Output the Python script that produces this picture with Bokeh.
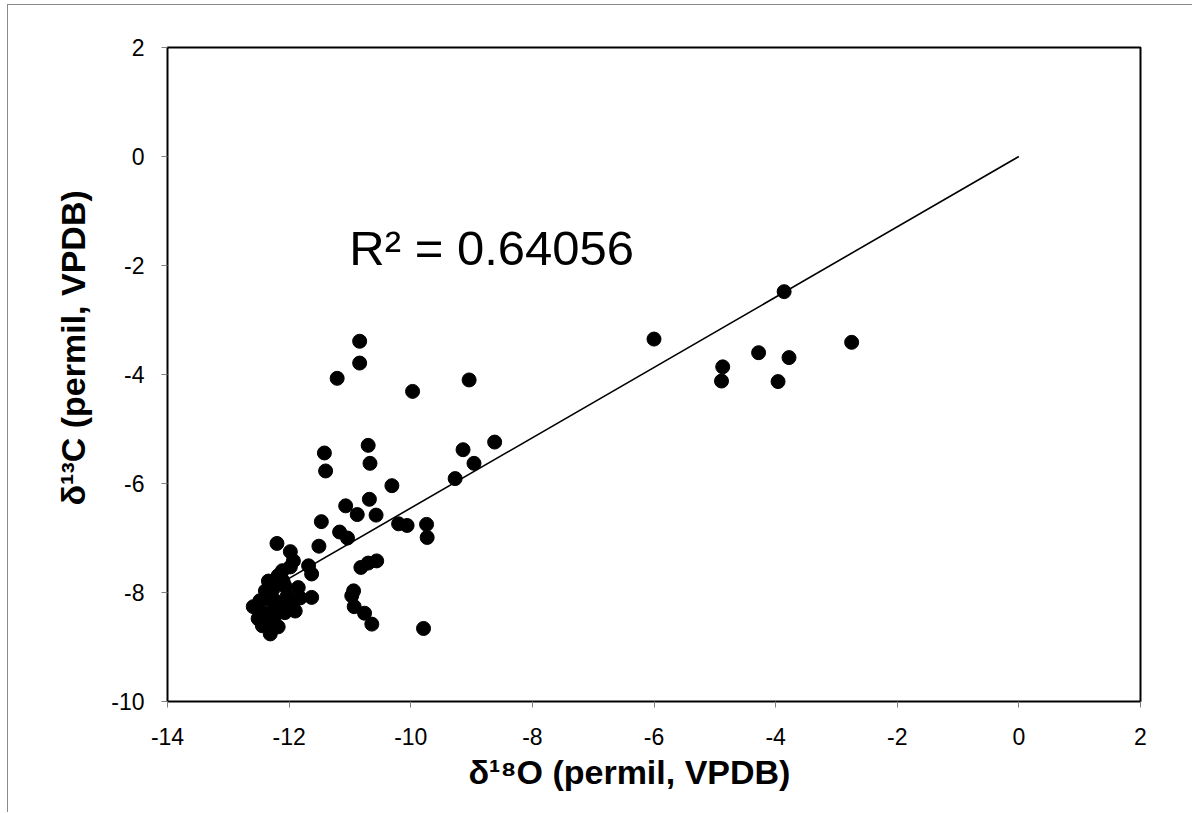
from bokeh.plotting import figure
from bokeh.models import FixedTicker, Range1d, Label, Title
from bokeh.embed import file_html
from bokeh.resources import INLINE

# delta 18O (x) and delta 13C (y), permil VPDB
d18O = [-10.84, -10.84, -11.21, -9.97, -9.04, -10.70, -11.42, -11.40, -10.67, -9.14,
        -8.62, -8.96, -9.27, -10.31, -10.68, -11.07, -10.88, -10.57, -11.47, -10.20,
        -10.06, -9.74, -9.73, -11.17, -11.04, -11.51, -10.56, -10.70, -10.82, -11.68,
        -11.63, -10.94, -10.97, -11.63, -10.93, -10.76, -10.64, -9.79,
        -6.00, -4.87, -4.89, -4.28, -3.78, -3.96, -2.75, -3.86,
        -12.20, -11.98, -11.93, -11.98, -11.85, -11.90, -12.59, -12.51, -12.31, -12.18,
        -12.26, -12.36, -12.15, -12.03, -12.31, -12.44, -12.10, -12.18, -12.39, -12.48,
        -12.23, -12.07, -11.98, -12.11, -12.34, -12.23, -12.07, -11.82, -11.95, -12.43,
        -12.28]
d13C = [-3.39, -3.79, -4.07, -4.31, -4.10, -5.30, -5.44, -5.77, -5.63, -5.38,
        -5.24, -5.63, -5.91, -6.04, -6.29, -6.41, -6.57, -6.58, -6.70, -6.74,
        -6.77, -6.75, -6.99, -6.89, -7.00, -7.15, -7.42, -7.46, -7.54, -7.51,
        -7.66, -7.97, -8.06, -8.09, -8.26, -8.38, -8.58, -8.66,
        -3.35, -3.86, -4.12, -3.60, -3.69, -4.13, -3.41, -2.48,
        -7.10, -7.25, -7.42, -7.53, -7.91, -8.34, -8.26, -8.48, -8.76, -8.63,
        -7.93, -8.12, -8.24, -8.06, -8.37, -8.61, -7.79, -7.69, -7.97, -8.15,
        -8.42, -8.37, -8.15, -7.60, -7.79, -8.15, -7.88, -8.10, -8.24, -8.37,
        -8.55]

x_ticks = [-14, -12, -10, -8, -6, -4, -2, 0, 2]
y_ticks = [-10, -8, -6, -4, -2, 0, 2]
trend_slope = 0.645          # linear trend through the origin
trend_x = [min(d18O), 0.0]
trend_y = [trend_slope * v for v in trend_x]
r2_text = "R\u00b2 = 0.64056"
x_title = "\u03b4\u00b9\u2078O (permil, VPDB)"
y_title = "\u03b4\u00b9\u00b3C (permil, VPDB)"

FONT = "Liberation Sans"

p = figure(width=1185, height=808,
           x_range=Range1d(-14, 2), y_range=Range1d(-10, 2),
           output_backend="svg", toolbar_location=None,
           min_border_left=159, min_border_right=53,
           min_border_top=42, min_border_bottom=112)
p.styles = {"margin-left": "7px", "margin-top": "4px",
            "border-left": "1px solid #8a8a8a", "border-top": "1px solid #8a8a8a"}

p.grid.visible = False
p.outline_line_color = "black"
p.outline_line_width = 2

for ax, ticks in ((p.xaxis[0], x_ticks), (p.yaxis[0], y_ticks)):
    ax.ticker = FixedTicker(ticks=ticks)
    ax.major_label_overrides = {t: str(t) for t in ticks}
    ax.minor_tick_line_color = None
    ax.major_tick_in = 0
    ax.major_tick_out = 6
    ax.major_tick_line_color = "#7f7f7f"
    ax.major_tick_line_width = 1
    ax.axis_line_color = None
    ax.major_label_text_font = FONT
    ax.major_label_text_font_size = "23px"
    ax.major_label_text_color = "black"
p.xaxis.major_label_standoff = 20
p.yaxis.major_label_standoff = 17

p.add_layout(Title(text=x_title, align="left", offset=301, standoff=7,
                   text_font=FONT, text_font_size="34px", text_font_style="bold",
                   text_color="black"), "below")
p.add_layout(Title(text=y_title, align="left", offset=196, standoff=34,
                   text_font=FONT, text_font_size="34px", text_font_style="bold",
                   text_color="black"), "left")

p.line(trend_x, trend_y, line_color="black", line_width=1.6)
p.scatter(d18O, d13C, size=14, fill_color="black", line_color="black")

p.add_layout(Label(x=-11.01, y=-1.675, text=r2_text, text_font=FONT,
                   text_font_size="49px", text_color="black",
                   text_baseline="alphabetic", text_align="left"))

open("out.html", "w").write(file_html(p, INLINE))
